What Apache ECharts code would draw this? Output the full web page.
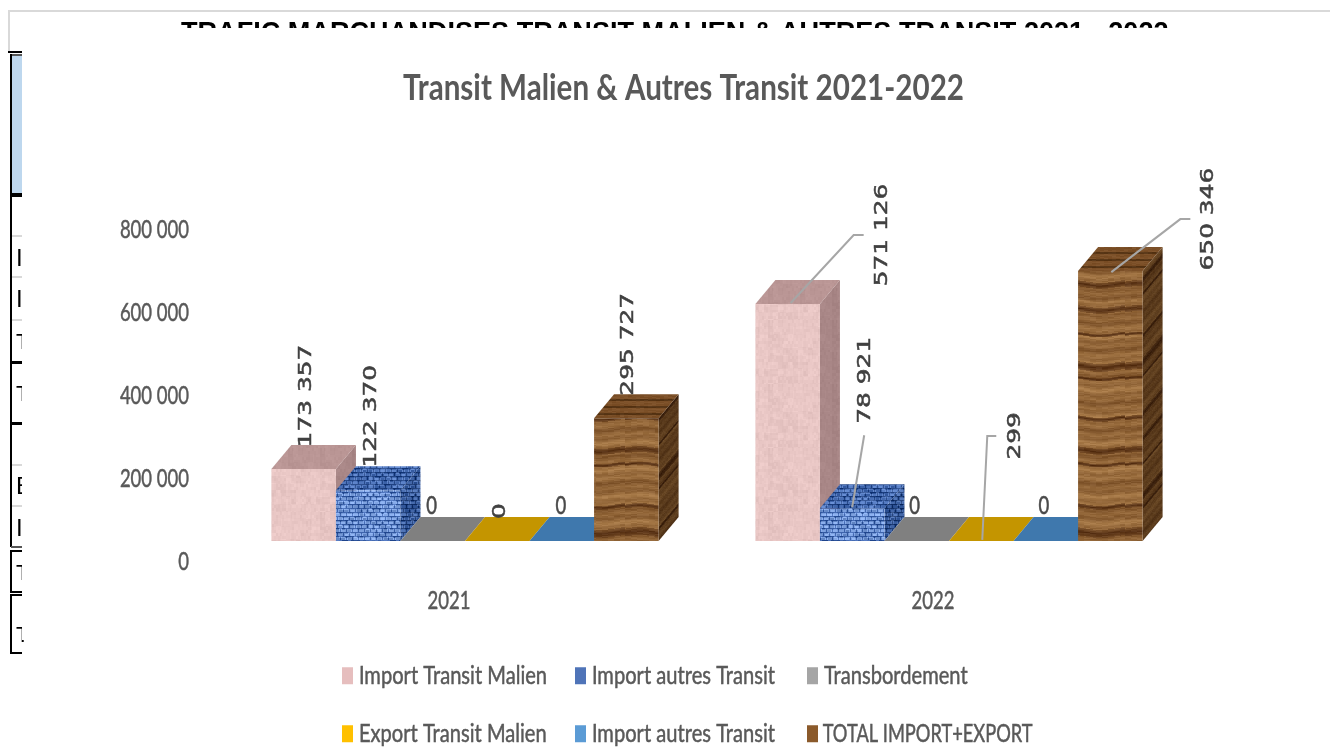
<!DOCTYPE html>
<html>
<head>
<meta charset="utf-8">
<style>html,body{margin:0;padding:0;background:#fff}#c{width:1330px;height:747px;filter:blur(0.5px)}</style>
<script src="https://cdn.jsdelivr.net/npm/echarts@6/dist/echarts.min.js"></script>
</head>
<body>
<div id="c"></div>
<script>
// ---- data ----
var categories = ['2021', '2022'];
var importTransitMalien = [173357, 571126];
var importAutresTransit = [122370, 78921];
var transbordement = [0, 0];
var exportTransitMalien = [0, 299];
var importAutresTransit2 = [0, 0];
var totalImportExport = [295727, 650346];
var yTicks = [0, 200000, 400000, 600000, 800000];
var legendNames = ['Import Transit Malien', 'Import autres Transit', 'Transbordement', 'Export Transit Malien', 'Import autres Transit', 'TOTAL IMPORT+EXPORT'];
var chartTitle = 'Transit Malien & Autres Transit 2021-2022';
var pageHeading = 'TRAFIC MARCHANDISES TRANSIT MALIEN & AUTRES TRANSIT 2021 - 2022';

// ---- look ----
var NARROW = 'Lato,"Noto Sans",sans-serif';
var SQUEEZE = 0.74, LEGEND_SQUEEZE = 0.805, CAPS_SQUEEZE = 0.73;
var TXT = '#595959';
var DX = 20, DY = 24, WALL = 21, SHIFT = 16;

function h(x, y) { var s = Math.sin(x * 12.9898 + y * 78.233) * 43758.5453; return s - Math.floor(s); }
function tile(w, ht, fn) {
  var c = document.createElement('canvas'); c.width = w; c.height = ht;
  var g = c.getContext('2d'), im = g.createImageData(w, ht);
  for (var y = 0; y < ht; y++) for (var x = 0; x < w; x++) {
    var p = fn(x, y), i = (y * w + x) * 4;
    im.data[i] = p[0]; im.data[i + 1] = p[1]; im.data[i + 2] = p[2]; im.data[i + 3] = 255;
  }
  g.putImageData(im, 0, 0);
  return { image: c, repeat: 'repeat' };
}
function mottled(r, g, b, amp) {
  return function (x, y) {
    var n = (h(Math.floor(x / 5), Math.floor(y / 7)) + h(Math.floor(x / 2), Math.floor(y / 3))) - 1;
    return [r + n * amp, g + n * amp, b + n * amp];
  };
}
// wood grain: dark seams within one 300px repeat
var seams = [[9,3],[34,1.5],[66,4],[78,1.5],[118,2],[150,3],[164,1.5],[206,2],[232,4],[246,1.5],[284,3]];
function woodRow(y) {
  y = ((y % 300) + 300) % 300;
  var t = 0.55 + 0.16 * Math.sin(y * 0.23) + 0.16 * Math.sin(y * 0.71 + 1);
  var c = [112 + 66 * t, 70 + 62 * t, 32 + 48 * t];
  for (var i = 0; i < seams.length; i++) {
    var d = Math.abs(y - seams[i][0]) / seams[i][1];
    if (d < 1) { var k = 1 - d * 0.6; c = [c[0] * (1 - k) + 84 * k, c[1] * (1 - k) + 46 * k, c[2] * (1 - k) + 18 * k]; }
  }
  return c;
}
function woodFront(x, y) {
  var c = woodRow(y + Math.sin(x * 0.11) * 1.5), n = (h(Math.floor(x / 6), y) - 0.5) * 18;
  return [c[0] + n, c[1] + n, c[2] + n];
}
function woodSide(x, y) {
  var c = woodRow(y + x * DY / DX), n = (h(x, y) - 0.5) * 10;
  return [c[0] * 0.62 + n, c[1] * 0.58 + n, c[2] * 0.5 + n];
}
function woodTop(x, y) {
  var b = (y % 7 < 2), n = (h(Math.floor(x / 4), y) - 0.5) * 14;
  return b ? [88 + n, 54 + n, 22 + n] : [124 + n, 80 + n, 40 + n];
}
function weave(l, d) {
  return function (x, y) {
    var a = (Math.floor(y / 4) % 2 === 0) ? (x + 2) % 6 : (x + 5) % 6;
    var on = a > 0 && (y % 4) > 0, n = (h(Math.floor(x / 3), Math.floor(y / 2)) - 0.5) * 60;
    var c = on ? l : d;
    return [c[0] + n, c[1] + n, c[2] + n];
  };
}
var skins = [
  { front: tile(64, 64, mottled(232, 198, 196, 9)), top: tile(32, 32, mottled(186, 150, 149, 6)), side: tile(32, 32, mottled(168, 134, 134, 6)), legend: '#E6BEBE' },
  { front: tile(48, 48, weave([122, 158, 220], [58, 96, 168])), top: tile(48, 48, weave([78, 116, 186], [40, 74, 138])), side: tile(48, 48, weave([66, 102, 168], [32, 62, 118])), legend: '#4F74B8' },
  { front: '#808080', top: '#808080', side: '#808080', legend: '#A5A5A5' },
  { front: '#C49500', top: '#C49500', side: '#C49500', legend: '#FFC000' },
  { front: '#3F78AD', top: '#3F78AD', side: '#3F78AD', legend: '#5B9BD5' },
  { front: tile(125, 300, woodFront), top: tile(64, 28, woodTop), side: tile(250, 300, woodSide), legend: '#8B5A2B' }
];

// label placement relative to each bar's top-centre: [series][category]
var labelLayout = [
  [{ dx: 3, dy: -73 }, { dx: 95, dy: -69, leader: [[3, -1], [66, -69], [76, -69]] }],
  [{ dx: 3, dy: -74 }, { dx: 13, dy: -128, leader: [[0, -1], [12, -73]] }],
  [{ dx: -1, dy: -35, flat: true }, { dx: -2, dy: -35, flat: true }],
  [{ dx: 3, dy: -30 }, { dx: 34, dy: -105, leader: [[1, -1], [6, -105], [15, -105]] }],
  [{ dx: -1, dy: -35, flat: true }, { dx: -2, dy: -35, flat: true }],
  [{ dx: 2, dy: -74 }, { dx: 98, dy: -52, leader: [[1, 1], [70, -52], [80, -52]] }]
];
function fmt(v) { return String(v).replace(/\B(?=(\d{3})+$)/g, ' '); }

function renderBar(params, api) {
  var s = params.seriesIndex, c = api.value(0), v = api.value(1);
  var base = api.coord([c, 0]), top = api.coord([c, v]), band = api.size([1, 0])[0];
  var w = band * 0.8 / 6, x0 = base[0] + SHIFT - band * 0.4 + s * w, x1 = x0 + w;
  var yB = base[1] - WALL, yT = top[1] - WALL, skin = skins[s], kids = [];
  kids.push({ type: 'polygon', shape: { points: [[x1, yT], [x1 + DX, yT - DY], [x1 + DX, yB - DY], [x1, yB]] }, style: { fill: skin.side } });
  kids.push({ type: 'polygon', shape: { points: [[x0, yT], [x1, yT], [x1 + DX, yT - DY], [x0 + DX, yT - DY]] }, style: { fill: skin.top } });
  kids.push({ type: 'rect', shape: { x: x0, y: yT, width: w, height: yB - yT }, style: { fill: skin.front } });
  var L = labelLayout[s][c], ax = x0 + w / 2;
  if (L.leader) {
    kids.push({ type: 'polyline', z2: 5, shape: { points: L.leader.map(function (p) { return [ax + p[0], yT + p[1]]; }) }, style: { fill: 'none', stroke: '#A6A6A6', lineWidth: 2 } });
  }
  kids.push(L.flat ? {
    type: 'text', z2: 6, x: ax + L.dx, y: yT + L.dy, scaleX: SQUEEZE,
    style: { text: fmt(v), font: '25px ' + NARROW, fill: '#4a4a4a', stroke: '#4a4a4a', lineWidth: 0.6, align: 'center', verticalAlign: 'middle' }
  } : {
    type: 'text', z2: 6, x: ax + L.dx, y: yT + L.dy, rotation: Math.PI / 2, scaleX: 1.38,
    style: { text: fmt(v), font: '18px "DejaVu Sans",sans-serif', fill: '#404040', stroke: '#404040', lineWidth: 0.5, align: 'center', verticalAlign: 'middle' }
  });
  return { type: 'group', children: kids };
}

function pairs(a) { return a.map(function (v, i) { return [i, v]; }); }
function mk(name, arr) {
  var idx = mk.n = (mk.n === undefined ? 0 : mk.n + 1);
  return { type: 'custom', name: name, coordinateSystem: 'cartesian2d', renderItem: renderBar, data: pairs(arr),
    encode: { x: 0, y: 1 }, itemStyle: { color: skins[idx].legend }, silent: true };
}
function legendItem(left, top, name, color) {
  return { left: left, top: top, orient: 'horizontal', selectedMode: false, itemWidth: 11, itemHeight: 17, itemGap: 0,
    icon: 'rect', data: [{ name: name, icon: 'rect', itemStyle: { color: color } }],
    textStyle: { fontFamily: NARROW, fontSize: 25, color: TXT, textBorderColor: TXT, textBorderWidth: 0.5, padding: 0 } };
}

// fragments of the document page behind the chart
function R(x, y, w, ht, fill) { return { type: 'rect', shape: { x: x, y: y, width: w, height: ht }, style: { fill: fill } }; }
function G(t, x, y, size) { return { type: 'text', x: x, y: y, style: { text: t, font: size + 'px "Liberation Sans",sans-serif', fill: '#000' } }; }
var BK = '#000', LG = '#d9d9d9';
var page = [
  R(8, 10, 1322, 2, LG), R(8, 10, 2, 42, LG),
  { type: 'text', x: 181, y: 20, style: { text: pageHeading, font: 'bold 27.1px "Liberation Sans",sans-serif', fill: '#000' } },
  R(100, 28, 1200, 24, '#fff'),
  R(8, 51, 14, 2, BK), R(11, 54, 11, 2, '#555'), R(12, 56, 10, 137, '#BDD7EE'), R(11, 193, 11, 4, BK),
  R(10, 54, 2, 493, BK),
  R(12, 235, 10, 2, LG), R(12, 276, 10, 2, LG), R(12, 319, 10, 2, LG), R(12, 464, 10, 2, LG), R(12, 505, 10, 2, LG),
  R(11, 361, 11, 3, BK), R(11, 422, 11, 3, BK),
  R(11, 546, 11, 2, '#555'),
  R(10, 550, 12, 2, BK), R(10, 550, 2, 43, BK), R(10, 591, 12, 2, BK),
  R(10, 594, 12, 2, BK), R(10, 594, 2, 60, BK), R(10, 652, 12, 2, BK),
  G('I', 16, 247, 24), G('I', 16, 288, 24), G('T', 16, 332, 22), G('T', 16, 384, 22),
  G('E', 16, 475, 24), G('I', 16, 517, 24), G('T', 16, 563, 22), G('T', 16, 625, 22),
  R(22, 240, 16, 400, '#fff')
];

var chart = echarts.init(document.getElementById('c'), null, { renderer: 'canvas' });
chart.setOption({
  animation: false,
  backgroundColor: '#fff',
  title: { text: chartTitle, left: 403, top: 70, padding: 0, textStyle: { fontFamily: NARROW, fontSize: 37, fontWeight: 'bold', color: TXT } },
  graphic: { elements: page },
  grid: { left: 207, right: 155, top: 230, height: 332, containLabel: false },
  xAxis: { type: 'category', data: categories, axisLine: { show: false }, axisTick: { show: false },
    axisLabel: { margin: 26, fontFamily: NARROW, fontSize: 25, color: TXT, textBorderColor: TXT, textBorderWidth: 0.5 } },
  yAxis: { type: 'value', min: yTicks[0], max: yTicks[yTicks.length - 1], interval: yTicks[1], axisLine: { show: false }, axisTick: { show: false }, splitLine: { show: false },
    axisLabel: { margin: 18, fontFamily: NARROW, fontSize: 25, color: TXT, textBorderColor: TXT, textBorderWidth: 0.5, formatter: function (v) { return fmt(v); } } },
  legend: [
    legendItem(337, 658, legendNames[0], skins[0].legend),
    legendItem(570, 658, legendNames[1], skins[1].legend),
    legendItem(802, 658, legendNames[2], skins[2].legend),
    legendItem(337, 716, legendNames[3], skins[3].legend),
    legendItem(570, 716, legendNames[4], skins[4].legend),
    legendItem(802, 716, legendNames[5], skins[5].legend)
  ],
  series: [
    mk(legendNames[0], importTransitMalien),
    mk(legendNames[1], importAutresTransit),
    mk(legendNames[2], transbordement),
    mk(legendNames[3], exportTransitMalien),
    mk(legendNames[4], importAutresTransit2),
    mk(legendNames[5], totalImportExport)
  ]
});

// The reference's labels are horizontally compressed: squeeze the native title, axis and legend texts.
var zr = chart.getZr();
zr.storage.getRoots().forEach(function (root) {
  var visit = function (el) {
    if (el.type === 'text' && el.style && el.style.fontFamily && el.style.fontFamily.indexOf('Lato') === 0) {
      var k = SQUEEZE;
      if (el.style.text === chartTitle) { k = 561 / el.getBoundingRect().width; }
      else if (el.style.text === legendNames[5]) { k = CAPS_SQUEEZE; el.x += 4; }
      else if (legendNames.indexOf(el.style.text) >= 0) { k = LEGEND_SQUEEZE; el.x += 4; }
      el.scaleX = k;
      el.markRedraw();
    }
  };
  visit(root);
  if (root.traverse) { root.traverse(visit); }
});
zr.refresh();
</script>
</body>
</html>
